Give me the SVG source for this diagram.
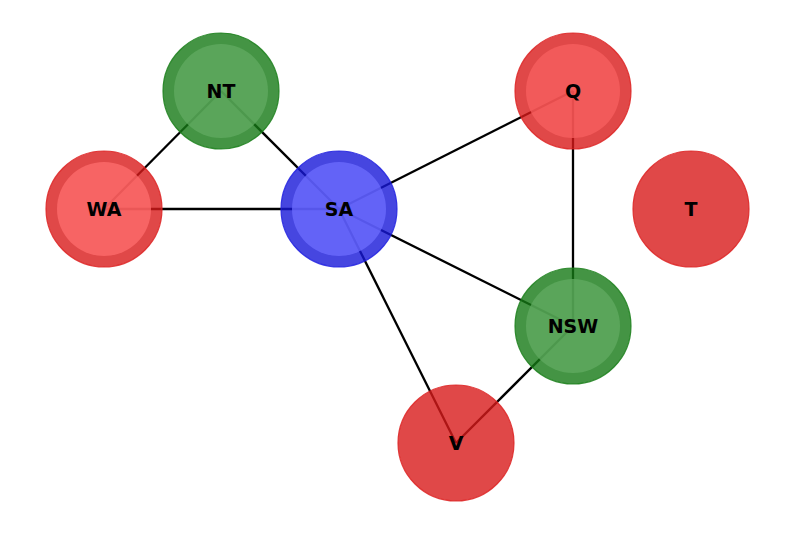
<svg xmlns="http://www.w3.org/2000/svg" width="794" height="536" viewBox="0 0 794 536">
<style>
.edge{stroke:#000;stroke-width:2.3;fill:none}
.outer{fill-opacity:0.8;stroke-opacity:0.85;stroke-width:1.2}
.inner{fill-opacity:0.75}
.red .outer{fill:#d81a1a;stroke:#dd2222}
.green .outer{fill:#157915;stroke:#1a7f1a}
.blue .outer{fill:#1818d8;stroke:#2020e0}
.lbl{font-family:"DejaVu Sans",sans-serif;font-weight:bold;font-size:19px;fill:#000;text-anchor:middle}
</style>
<rect width="794" height="536" fill="#fff"/>
<g id="connectors">
<line class="edge" x1="221" y1="91" x2="104" y2="209"/>
<line class="edge" x1="221" y1="91" x2="339" y2="209"/>
<line class="edge" x1="104" y1="209" x2="339" y2="209"/>
<line class="edge" x1="339" y1="209" x2="573" y2="91"/>
<line class="edge" x1="339" y1="209" x2="573" y2="326"/>
<line class="edge" x1="339" y1="209" x2="456" y2="443"/>
<line class="edge" x1="573" y1="91" x2="573" y2="326"/>
<line class="edge" x1="573" y1="326" x2="456" y2="443"/>
</g>
<g id="node-NT" class="green">
<circle class="outer" cx="221" cy="91" r="58"/>
<circle class="inner" cx="221" cy="91" r="47" fill="#61ab61"/>
<text class="lbl" x="221" y="98">NT</text>
</g>
<g id="node-WA" class="red">
<circle class="outer" cx="104" cy="209" r="58"/>
<circle class="inner" cx="104" cy="209" r="47" fill="#ff6d6d"/>
<text class="lbl" x="104" y="216">WA</text>
</g>
<g id="node-SA" class="blue">
<circle class="outer" cx="339" cy="209" r="58"/>
<circle class="inner" cx="339" cy="209" r="47" fill="#6e6eff"/>
<text class="lbl" x="339" y="216">SA</text>
</g>
<g id="node-Q" class="red">
<circle class="outer" cx="573" cy="91" r="58"/>
<circle class="inner" cx="573" cy="91" r="47" fill="#f86060"/>
<text class="lbl" x="573" y="98">Q</text>
</g>
<g id="node-T" class="red">
<circle class="outer" cx="691" cy="209" r="58"/>
<text class="lbl" x="691" y="216">T</text>
</g>
<g id="node-NSW" class="green">
<circle class="outer" cx="573" cy="326" r="58"/>
<circle class="inner" cx="573" cy="326" r="47" fill="#61ab61"/>
<text class="lbl" x="573" y="333">NSW</text>
</g>
<g id="node-V" class="red">
<circle class="outer" cx="456" cy="443" r="58"/>
<text class="lbl" x="456" y="450">V</text>
</g>
</svg>
